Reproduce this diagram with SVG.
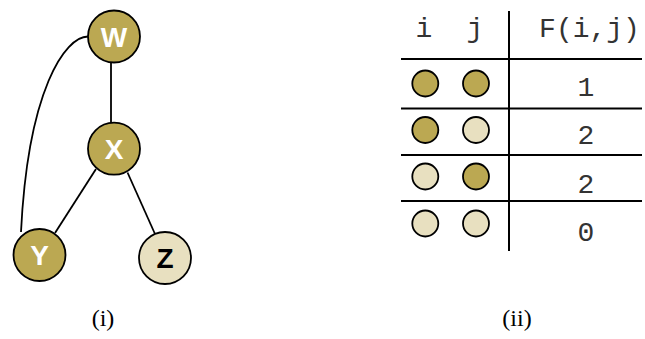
<svg xmlns="http://www.w3.org/2000/svg" width="645" height="339" viewBox="0 0 645 339">
<style>
.dk{fill:#BBA852;stroke:#000;stroke-width:1.8}
.lt{fill:#E8E0C0;stroke:#000;stroke-width:1.8}
.lbl{font-family:"Liberation Sans",Arial,sans-serif;font-weight:bold;font-size:28px;text-anchor:middle}
.edge{fill:none;stroke:#000;stroke-width:1.8}
.mono{font-family:"Liberation Mono","Courier New",monospace;font-size:28px;fill:#333;text-anchor:middle}
.cap{font-family:"Liberation Serif","Times New Roman",serif;font-size:24px;fill:#000;text-anchor:middle}
.grid{stroke:#000;stroke-width:2}
</style>
<rect width="645" height="339" fill="#fff"/>
<g id="connectors">
<path class="edge" d="M88 36.5 C65 36.5, 28 90, 21 232"/>
<line class="edge" x1="111" y1="62" x2="111" y2="123"/>
<line class="edge" x1="96" y1="169" x2="55" y2="233"/>
<line class="edge" x1="127.5" y1="172.5" x2="155" y2="234"/>
</g>
<g id="node-W"><circle class="dk" cx="114" cy="36.5" r="26"/><text class="lbl" x="114" y="46.5" fill="#fff">W</text></g>
<g id="node-X"><circle class="dk" cx="114" cy="148.7" r="26"/><text class="lbl" x="114" y="158.7" fill="#fff">X</text></g>
<g id="node-Y"><circle class="dk" cx="39.5" cy="255" r="26"/><text class="lbl" x="39.5" y="265" fill="#fff">Y</text></g>
<g id="node-Z"><circle class="lt" cx="165" cy="258" r="26"/><text class="lbl" x="165" y="268" fill="#000">Z</text></g>
<g id="table">
<line class="grid" x1="509" y1="11" x2="509" y2="251"/>
<line class="grid" x1="401" y1="59" x2="642" y2="59"/>
<line class="grid" x1="401" y1="108.5" x2="642" y2="108.5"/>
<line class="grid" x1="401" y1="155" x2="642" y2="155"/>
<line class="grid" x1="401" y1="201" x2="642" y2="201"/>
<text class="mono" x="424" y="37">i</text>
<text class="mono" x="475" y="37">j</text>
<text class="mono" x="589.5" y="37">F(i,j)</text>
<circle class="dk" cx="425.3" cy="83.5" r="13"/><circle class="dk" cx="476" cy="83.5" r="13"/>
<circle class="dk" cx="425.3" cy="130" r="13"/><circle class="lt" cx="476" cy="130" r="13"/>
<circle class="lt" cx="425.3" cy="176.5" r="13"/><circle class="dk" cx="476" cy="176.5" r="13"/>
<circle class="lt" cx="425.3" cy="223.5" r="13"/><circle class="lt" cx="476" cy="223.5" r="13"/>
<text class="mono" x="586" y="96">1</text>
<text class="mono" x="586" y="143.5">2</text>
<text class="mono" x="586" y="192.5">2</text>
<text class="mono" x="586" y="240.5">0</text>
</g>
<text class="cap" x="103" y="326">(i)</text>
<text class="cap" x="517" y="326">(ii)</text>
</svg>
